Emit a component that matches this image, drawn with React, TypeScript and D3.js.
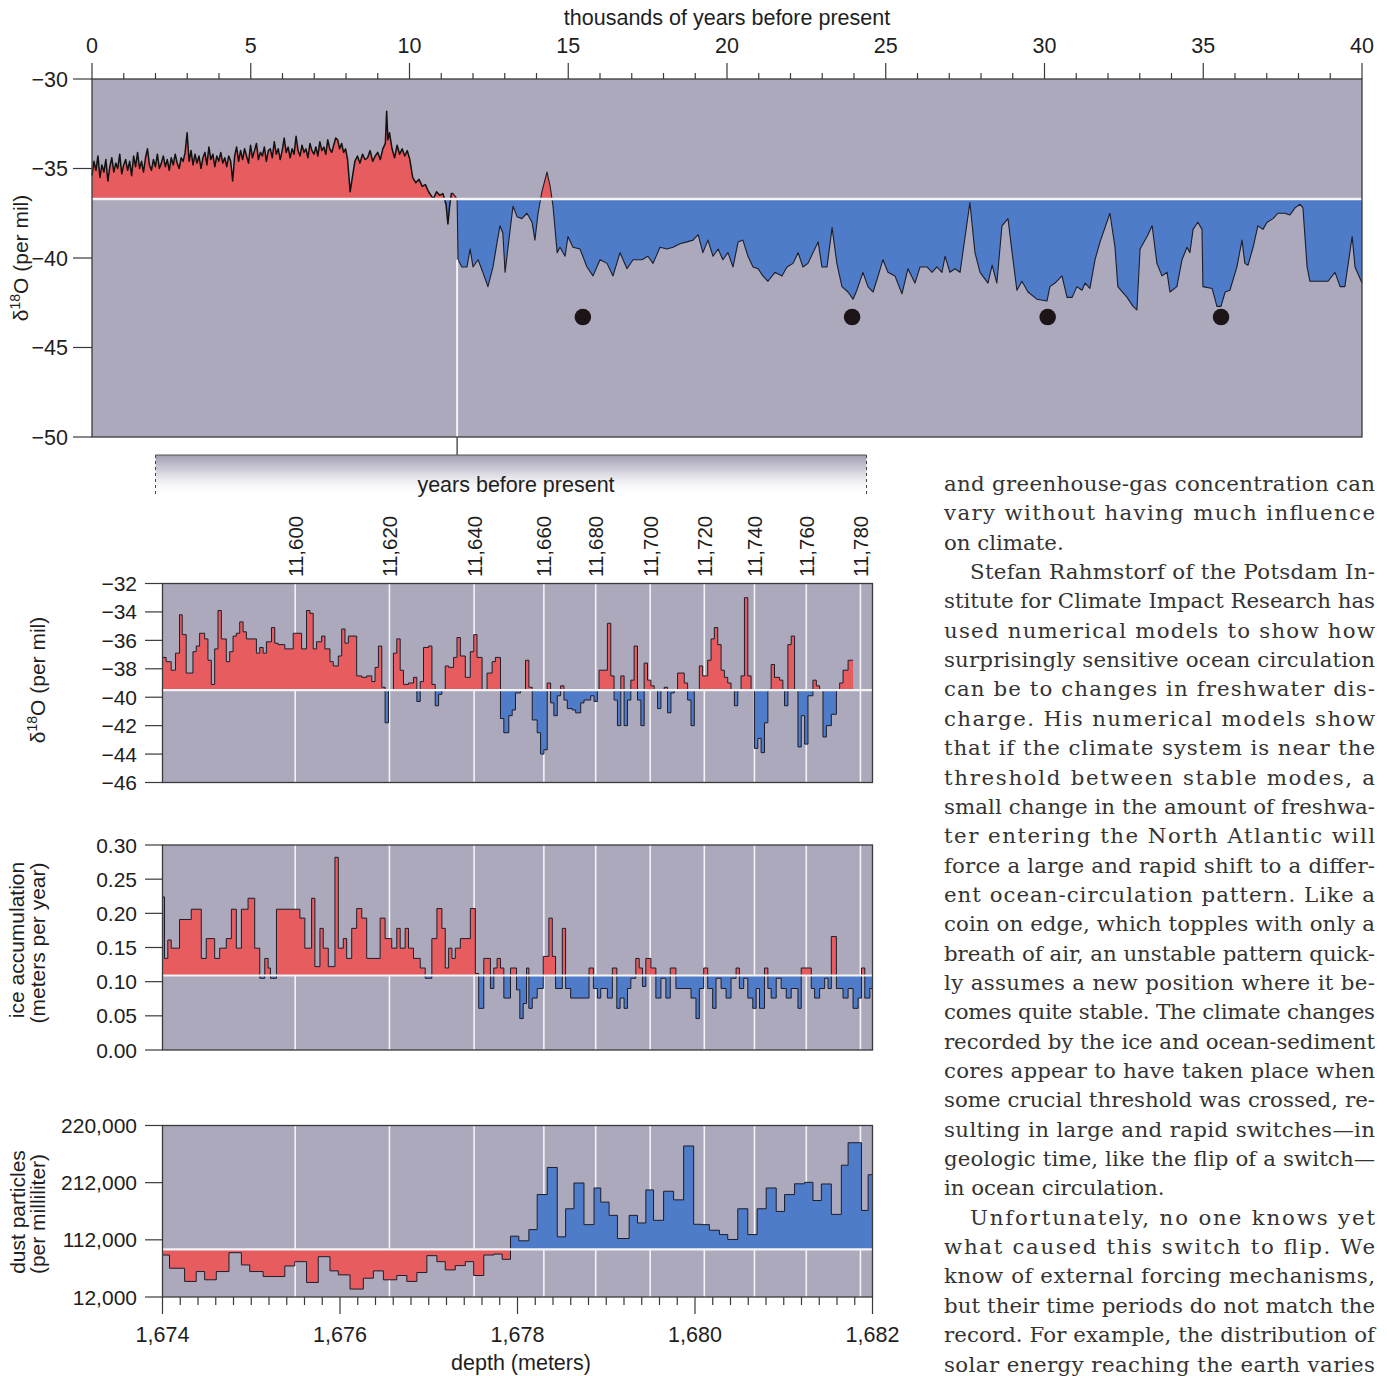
import React from "react";
import * as d3 from "d3";

// ---------------- DATA ----------------
// Top panel: GISP2 δ18O, 0–40 thousand years before present
const topTickKyr = [0, 5, 10, 15, 20, 25, 30, 35, 40];
const topValueTicks = [-30, -35, -40, -45, -50];

// Holocene high-resolution section, evenly sampled from 0 to 8.05 kyr
const holoceneD18O = [
  -35.4, -34.6, -35.1, -34.3, -35.5, -34.8, -35.2, -34.5, -35.7, -34.9, -34.4, -35.2, -34.7, -35.0, -34.2, -35.3,
  -34.8, -34.5, -35.1, -34.6, -35.4, -34.3, -34.9, -34.1, -35.0, -34.6, -35.2, -34.4, -33.9, -34.8, -35.1, -34.5,
  -34.9, -34.2, -35.0, -34.7, -34.3, -34.9, -34.5, -35.1, -34.4, -34.8, -34.2, -34.7, -35.0, -34.4, -34.6, -34.1,
  -33.0, -34.6, -34.0, -34.8, -34.2, -34.7, -34.3, -35.0, -34.4, -34.1, -34.8, -33.8, -34.5, -34.2, -34.9, -34.3,
  -34.6, -34.1, -34.7, -34.4, -34.9, -34.3, -34.6, -35.7,
  -34.3, -33.8, -34.6, -34.0, -34.5, -33.9, -34.3, -34.7, -33.7, -34.4, -34.0, -33.6, -34.5, -34.1, -34.3, -33.8,
  -34.6, -34.0, -33.9, -34.4, -33.5, -34.2, -33.9, -34.5, -34.0, -33.3, -34.1, -33.8, -34.4, -33.9, -34.2, -33.2,
  -34.0, -34.3, -33.7, -34.1, -33.9, -34.4, -33.6, -34.0, -34.2, -33.8, -34.3, -33.5, -34.0, -33.8, -34.2, -33.4,
  -33.9, -34.1,
  -33.7, -33.3, -33.4, -33.9, -33.6, -34.1, -33.9, -34.5,
];
const HOLOCENE_NOISE_END_KYR = 8.05;

const laterAgeKyr = [
  8.13, 8.2, 8.28, 8.36, 8.44, 8.52, 8.6, 8.68, 8.76, 8.84, 8.92, 9.0, 9.08, 9.16, 9.24, 9.28, 9.32, 9.37,
  9.45, 9.53, 9.61, 9.69, 9.77, 9.85, 9.93, 10.01, 10.1, 10.2, 10.3, 10.4, 10.5, 10.6, 10.75, 10.85, 10.95,
  11.05, 11.15, 11.21, 11.27, 11.32, 11.37, 11.5, 11.53, 11.65, 11.81, 11.91, 12.0, 12.16, 12.31, 12.47,
  12.63, 12.76, 12.85, 12.94, 13.01, 13.17, 13.26, 13.39, 13.54, 13.7, 13.86, 13.95, 14.05, 14.17, 14.33,
  14.43, 14.52, 14.65, 14.74, 14.9, 14.99, 15.15, 15.37, 15.59, 15.78, 16.0, 16.22, 16.41, 16.63, 16.85,
  17.04, 17.32, 17.51, 17.67, 17.89, 18.11, 18.3, 18.52, 18.74, 18.93, 19.09, 19.24, 19.4, 19.56, 19.72,
  19.87, 20.03, 20.19, 20.35, 20.5, 20.66, 20.82, 20.98, 21.13, 21.29, 21.51, 21.73, 21.89, 22.08, 22.24,
  22.39, 22.55, 22.71, 22.87, 22.99, 23.15, 23.31, 23.46, 23.62, 23.81, 23.97, 24.09, 24.28, 24.44, 24.6,
  24.76, 24.91, 25.07, 25.29, 25.51, 25.7, 25.92, 26.08, 26.3, 26.46, 26.61, 26.77, 26.87, 27.02, 27.18,
  27.34, 27.5, 27.65, 27.81, 27.97, 28.22, 28.35, 28.5, 28.66, 28.85, 28.98, 29.13, 29.29, 29.48, 29.76,
  30.08, 30.17, 30.33, 30.55, 30.71, 30.87, 31.02, 31.18, 31.28, 31.43, 31.59, 31.75, 32.06, 32.22, 32.31,
  32.6, 32.79, 32.91, 33.01, 33.23, 33.39, 33.54, 33.7, 33.86, 33.95, 34.17, 34.33, 34.49, 34.58, 34.68,
  34.83, 34.96, 34.99, 35.28, 35.43, 35.56, 35.69, 35.84, 36.06, 36.22, 36.31, 36.41, 36.57, 36.72, 36.88,
  37.01, 37.2, 37.35, 37.57, 37.73, 37.89, 38.05, 38.14, 38.27, 38.36, 38.68, 38.93, 39.15, 39.31, 39.46,
  39.69, 39.78, 40.0,
];
const laterD18O = [
  -36.3, -35.5, -34.6, -34.3, -34.7, -34.2, -34.5, -34.4, -34.0, -34.6, -34.3, -34.1, -34.5, -33.9, -33.6, -31.8, -33.4, -33.0,
  -33.9, -34.4, -33.7, -34.2, -33.9, -34.3, -34.0, -34.5, -35.5, -35.8, -35.6, -36.0, -35.9, -36.3, -36.7, -36.3, -36.5,
  -36.4, -37.0, -38.1, -37.0, -36.4, -36.4, -36.7, -40.1, -40.5, -40.5, -39.5, -40.5, -40.1, -40.8, -41.6,
  -40.5, -39.1, -38.2, -38.6, -40.8, -38.4, -37.1, -37.7, -37.8, -37.5, -38.0, -39.0, -37.5, -36.3, -35.2,
  -36.0, -37.1, -39.7, -39.4, -39.9, -38.8, -39.4, -39.5, -40.5, -41.0, -40.1, -40.3, -41.0, -39.7, -40.6,
  -40.1, -40.1, -39.9, -40.3, -39.4, -39.5, -39.4, -39.2, -39.1, -39.0, -38.7, -39.7, -39.0, -39.9, -39.5,
  -40.1, -39.7, -40.5, -39.1, -39.0, -39.9, -40.5, -40.6, -41.0, -41.3, -40.8, -41.0, -40.5, -40.3, -39.7,
  -40.5, -40.3, -39.7, -39.1, -40.5, -40.5, -38.3, -40.3, -41.6, -41.9, -42.3, -41.8, -40.8, -41.6, -41.9,
  -41.0, -40.1, -40.8, -41.0, -42.0, -40.6, -41.4, -40.5, -40.5, -40.8, -40.5, -40.8, -39.9, -40.8, -40.6,
  -40.8, -38.8, -36.9, -39.7, -40.8, -41.4, -40.4, -41.4, -38.2, -37.8, -39.7, -41.8, -41.3, -41.9, -42.3,
  -42.4, -41.6, -41.4, -41.0, -42.2, -42.2, -41.6, -41.8, -41.4, -41.7, -40.1, -39.1, -37.5, -39.4, -41.6,
  -42.2, -42.7, -42.9, -39.5, -38.8, -38.2, -40.3, -41.0, -40.8, -41.9, -41.6, -40.1, -39.4, -39.7, -38.4,
  -38.0, -38.4, -41.6, -41.7, -42.7, -42.7, -41.9, -41.8, -40.5, -39.0, -40.3, -40.4, -39.4, -38.2, -38.4,
  -38.0, -37.8, -37.5, -37.5, -37.6, -37.2, -37.0, -37.2, -40.5, -41.3, -41.3, -41.3, -40.8, -41.6, -41.6,
  -38.8, -40.5, -41.4,
];
const TOP_THRESHOLD = -36.7;
const TRANSITION_KYR = 11.5;
const stadialDotKyr = [15.46, 23.94, 30.1, 35.56];
const STADIAL_DOT_VALUE = -43.3;

// Lower panels: depth axis and year markers
const depthLabelTicks = [1674, 1676, 1678, 1680, 1682];
const yearLabels = ["11,600", "11,620", "11,640", "11,660", "11,680", "11,700", "11,720", "11,740", "11,760", "11,780"];
const yearDepth = [1675.495, 1676.557, 1677.511, 1678.297, 1678.881, 1679.495, 1680.105, 1680.67, 1681.254, 1681.864];

// High-resolution δ18O (step starts, depth in m)
const hiResDepth = [
  1674.0, 1674.041, 1674.098, 1674.147, 1674.192, 1674.222, 1674.267, 1674.343, 1674.38, 1674.418, 1674.475, 1674.512,
  1674.55, 1674.588, 1674.625, 1674.663, 1674.719, 1674.757, 1674.795, 1674.832, 1674.87, 1674.908, 1674.945, 1675.058,
  1675.096, 1675.134, 1675.171, 1675.228, 1675.265, 1675.303, 1675.378, 1675.473, 1675.567, 1675.623, 1675.661, 1675.698,
  1675.736, 1675.793, 1675.83, 1675.887, 1675.924, 1675.981, 1676.019, 1676.056, 1676.094, 1676.188, 1676.245, 1676.301,
  1676.358, 1676.395, 1676.433, 1676.471, 1676.508, 1676.546, 1676.602, 1676.64, 1676.678, 1676.715, 1676.772, 1676.828,
  1676.866, 1676.904, 1676.941, 1676.998, 1677.036, 1677.073, 1677.111, 1677.148, 1677.186, 1677.224, 1677.28, 1677.318,
  1677.356, 1677.412, 1677.468, 1677.507, 1677.544, 1677.601, 1677.657, 1677.714, 1677.751, 1677.808, 1677.846, 1677.902,
  1677.94, 1677.977, 1678.034, 1678.09, 1678.128, 1678.166, 1678.222, 1678.26, 1678.298, 1678.335, 1678.373, 1678.41,
  1678.448, 1678.486, 1678.523, 1678.561, 1678.618, 1678.655, 1678.712, 1678.749, 1678.825, 1678.862, 1678.9, 1678.919,
  1679.013, 1679.051, 1679.088, 1679.126, 1679.164, 1679.201, 1679.239, 1679.277, 1679.314, 1679.352, 1679.39, 1679.427,
  1679.465, 1679.503, 1679.54, 1679.578, 1679.616, 1679.653, 1679.691, 1679.729, 1679.766, 1679.804, 1679.879, 1679.917,
  1679.955, 1679.992, 1680.049, 1680.086, 1680.143, 1680.181, 1680.218, 1680.256, 1680.294, 1680.331, 1680.369, 1680.406,
  1680.444, 1680.482, 1680.519, 1680.557, 1680.595, 1680.632, 1680.67, 1680.708, 1680.745, 1680.783, 1680.821, 1680.858,
  1680.896, 1680.953, 1680.99, 1681.009, 1681.047, 1681.084, 1681.122, 1681.16, 1681.197, 1681.235, 1681.273, 1681.329,
  1681.367, 1681.404, 1681.442, 1681.48, 1681.536, 1681.593, 1681.63, 1681.668, 1681.725,
];
const hiResD18O = [
  -37.2, -37.5, -38.1, -36.9, -34.2, -35.6, -38.3, -36.8, -36.4, -35.5, -35.9, -37.4,
  -39.1, -36.6, -33.9, -35.9, -37.5, -36.8, -35.7, -35.5, -34.7, -35.4, -35.9, -36.9,
  -36.5, -36.9, -36.1, -35.1, -36.2, -36.3, -36.6, -35.5, -36.6, -33.9, -34.1, -36.6,
  -36.1, -35.7, -36.6, -37.5, -37.8, -37.1, -35.2, -36.2, -35.7, -38.5, -38.6, -38.5,
  -38.9, -37.9, -36.4, -39.3, -41.8, -39.5, -36.9, -35.9, -38.1, -39.1, -39.0, -38.6,
  -40.3, -38.9, -36.5, -36.4, -39.1, -40.6, -39.8, -39.5, -37.8, -37.9, -37.2, -35.8,
  -37.1, -38.6, -36.8, -35.6, -37.2, -39.5, -38.3, -37.5, -37.2, -41.5, -42.5, -41.3,
  -40.9, -39.7, -39.5, -37.4, -39.3, -41.6, -42.5, -44.0, -43.7, -39.0, -40.4, -41.3,
  -39.9, -39.2, -40.2, -40.8, -40.9, -41.1, -40.4, -40.2, -39.9, -40.3, -39.5, -38.1,
  -34.8, -38.5, -40.2, -42.0, -38.5, -42.0, -40.2, -38.8, -36.4, -40.2, -42.0, -37.6,
  -38.8, -39.2, -39.5, -40.8, -39.5, -39.3, -41.1, -39.7, -39.5, -38.3, -39.0, -40.2,
  -42.0, -39.5, -37.8, -38.5, -37.4, -35.9, -35.1, -36.3, -38.1, -38.6, -39.0, -39.5,
  -40.6, -39.5, -38.5, -33.0, -38.5, -39.5, -43.6, -42.9, -43.9, -41.8, -39.5, -37.7,
  -38.6, -38.8, -39.5, -40.6, -36.3, -35.7, -39.5, -43.5, -41.3, -43.3, -39.9, -38.8,
  -39.2, -39.5, -42.8, -42.0, -41.2, -39.5, -39.0, -38.1, -37.4,
];
const HIRES_END_DEPTH = 1681.781;
const HIRES_THRESHOLD = -39.5;
const hiResTicks = [-32, -34, -36, -38, -40, -42, -44, -46];

// Ice accumulation (m per year)
const iceDepth = [
  1674.0, 1674.023, 1674.06, 1674.098, 1674.192, 1674.324, 1674.437, 1674.493, 1674.588, 1674.644, 1674.719, 1674.776,
  1674.832, 1674.889, 1674.964, 1675.039, 1675.096, 1675.152, 1675.19, 1675.216, 1675.284, 1675.548, 1675.604, 1675.68,
  1675.717, 1675.774, 1675.811, 1675.868, 1675.943, 1675.981, 1676.037, 1676.075, 1676.132, 1676.188, 1676.245, 1676.301,
  1676.452, 1676.508, 1676.583, 1676.64, 1676.678, 1676.734, 1676.772, 1676.828, 1676.904, 1676.96, 1677.035, 1677.092,
  1677.148, 1677.186, 1677.224, 1677.261, 1677.299, 1677.356, 1677.469, 1677.525, 1677.563, 1677.62, 1677.695, 1677.733,
  1677.77, 1677.808, 1677.846, 1677.921, 1677.989, 1678.026, 1678.064, 1678.102, 1678.128, 1678.166, 1678.222, 1678.29,
  1678.354, 1678.392, 1678.429, 1678.505, 1678.542, 1678.599, 1678.806, 1678.855, 1678.9, 1678.938, 1679.013, 1679.069,
  1679.119, 1679.156, 1679.201, 1679.239, 1679.277, 1679.333, 1679.371, 1679.408, 1679.446, 1679.503, 1679.559, 1679.616,
  1679.672, 1679.721, 1679.785, 1679.955, 1680.011, 1680.049, 1680.098, 1680.143, 1680.199, 1680.237, 1680.294, 1680.35,
  1680.406, 1680.463, 1680.5, 1680.549, 1680.595, 1680.651, 1680.689, 1680.727, 1680.783, 1680.821, 1680.858, 1680.915,
  1680.971, 1681.028, 1681.084, 1681.16, 1681.197, 1681.31, 1681.348, 1681.404, 1681.461, 1681.499, 1681.536, 1681.593,
  1681.668, 1681.725, 1681.781, 1681.838, 1681.876, 1681.913, 1681.97,
];
const iceAccum = [
  0.224, 0.134, 0.161, 0.149, 0.191, 0.206, 0.134, 0.163, 0.134, 0.149, 0.163, 0.206,
  0.149, 0.206, 0.222, 0.149, 0.105, 0.134, 0.12, 0.105, 0.206, 0.193, 0.149, 0.222,
  0.122, 0.178, 0.149, 0.122, 0.282, 0.149, 0.163, 0.134, 0.178, 0.207, 0.193, 0.134,
  0.193, 0.163, 0.149, 0.178, 0.149, 0.178, 0.149, 0.134, 0.12, 0.105, 0.163, 0.207,
  0.178, 0.12, 0.149, 0.134, 0.149, 0.163, 0.207, 0.112, 0.061, 0.134, 0.09, 0.12,
  0.134, 0.12, 0.076, 0.12, 0.088, 0.046, 0.068, 0.12, 0.061, 0.076, 0.09, 0.137,
  0.193, 0.137, 0.09, 0.178, 0.09, 0.076, 0.12, 0.09, 0.076, 0.09, 0.076, 0.12,
  0.061, 0.076, 0.061, 0.09, 0.105, 0.134, 0.12, 0.093, 0.134, 0.12, 0.076, 0.105,
  0.076, 0.12, 0.09, 0.076, 0.046, 0.09, 0.12, 0.09, 0.061, 0.105, 0.09, 0.076,
  0.105, 0.12, 0.09, 0.105, 0.076, 0.061, 0.09, 0.061, 0.12, 0.09, 0.076, 0.105,
  0.09, 0.076, 0.09, 0.061, 0.12, 0.09, 0.076, 0.09, 0.105, 0.09, 0.166, 0.09,
  0.076, 0.09, 0.061, 0.076, 0.12, 0.076, 0.09,
];
const ICE_END_DEPTH = 1682.0;
const ICE_THRESHOLD = 0.109;
const iceTicks = [0, 0.05, 0.1, 0.15, 0.2, 0.25, 0.3];

// Dust particles (per milliliter)
const dustDepth = [
  1674.0, 1674.079, 1674.249, 1674.38, 1674.475, 1674.606, 1674.749, 1674.889, 1674.983, 1675.134, 1675.378, 1675.491,
  1675.623, 1675.755, 1675.887, 1675.981, 1676.113, 1676.263, 1676.376, 1676.489, 1676.64, 1676.753, 1676.866, 1676.979,
  1677.092, 1677.186, 1677.299, 1677.412, 1677.506, 1677.62, 1677.733, 1677.827, 1677.921, 1678.015, 1678.128, 1678.222,
  1678.335, 1678.448, 1678.542, 1678.636, 1678.749, 1678.862, 1678.938, 1679.032, 1679.126, 1679.258, 1679.352, 1679.446,
  1679.533, 1679.646, 1679.759, 1679.872, 1679.985, 1680.068, 1680.162, 1680.275, 1680.369, 1680.482, 1680.595, 1680.7,
  1680.802, 1680.915, 1681.009, 1681.122, 1681.235, 1681.329, 1681.424, 1681.536, 1681.649, 1681.725, 1681.876, 1681.951,
];
const dustCount = [
  85400, 62300, 39200, 56500, 42100, 56500, 89500, 68100, 56500, 47800, 66300, 73800,
  37400, 82500, 57700, 50700, 25900, 44900, 57700, 42100, 49600, 39200, 54800, 84300,
  73800, 59400, 66900, 73800, 49600, 85400, 87100, 77900, 118400, 110300, 129900, 191200,
  238600, 117200, 166300, 211400, 138600, 202700, 177900, 154800, 114300, 154800, 141500, 199300,
  146100, 197000, 181900, 276200, 139200, 138600, 128800, 121200, 112600, 166300, 121200, 166300,
  202700, 161700, 191200, 210000, 212600, 180800, 209700, 156500, 242600, 281900, 163400, 225900,
];
const DUST_END_DEPTH = 1682.0;
const DUST_THRESHOLD = 95200;
const dustTickValues = [12000, 112000, 212000, 312000];
const dustTickLabels = ["12,000", "112,000", "212,000", "220,000"];

// Text column
const bodyLines = [
  "and greenhouse-gas concentration can",
  "vary without having much influence",
  "on climate.",
  "Stefan Rahmstorf of the Potsdam In-",
  "stitute for Climate Impact Research has",
  "used numerical models to show how",
  "surprisingly sensitive ocean circulation",
  "can be to changes in freshwater dis-",
  "charge. His numerical models show",
  "that if the climate system is near the",
  "threshold between stable modes, a",
  "small change in the amount of freshwa-",
  "ter entering the North Atlantic will",
  "force a large and rapid shift to a differ-",
  "ent ocean-circulation pattern. Like a",
  "coin on edge, which topples with only a",
  "breath of air, an unstable pattern quick-",
  "ly assumes a new position where it be-",
  "comes quite stable. The climate changes",
  "recorded by the ice and ocean-sediment",
  "cores appear to have taken place when",
  "some crucial threshold was crossed, re-",
  "sulting in large and rapid switches\u2014in",
  "geologic time, like the flip of a switch\u2014",
  "in ocean circulation.",
  "Unfortunately, no one knows yet",
  "what caused this switch to flip. We",
  "know of external forcing mechanisms,",
  "but their time periods do not match the",
  "record. For example, the distribution of",
  "solar energy reaching the earth varies",
];
const indentedLines = [3, 25];
const raggedLines = [2, 24];

// ---------------- LAYOUT / STYLE ----------------
const W = 1387;
const H = 1376;
const SANS = "'Liberation Sans', Arial, Helvetica, sans-serif";
const SERIF = "'DejaVu Serif', serif";
const BG = "#aba9bb";
const RED = "#e75d5f";
const BLUE = "#4e7cc8";
const INK = "#1d1d2b";
const WHITE = "#f4f4f7";
const FRAME = "#3a3a3a";
const TXT = "#1e1e1e";

const xKyr = d3.scaleLinear().domain([0, 40]).range([92, 1362]);
const yTop = d3.scaleLinear().domain([-50, -30]).range([437, 79]);
const xDepth = d3.scaleLinear().domain([1674, 1682]).range([162.5, 872.5]);
const yHi = d3.scaleLinear().domain([-46, -32]).range([782.5, 583.5]);
const yIce = d3.scaleLinear().domain([0, 0.3]).range([1050, 845]);
const yDust = d3.scaleLinear().domain([12000, 312000]).range([1297, 1125.5]);

type Pt = { x: number; v: number };

function stepPoints(depths: number[], vals: number[], end: number): Pt[] {
  const pts = depths.map((d, i) => ({ x: d, v: vals[i] }));
  pts.push({ x: end, v: vals[vals.length - 1] });
  return pts;
}

function StepPanel(props: {
  id: string;
  yScale: d3.ScaleLinear<number, number>;
  pts: Pt[];
  threshold: number;
  ticks: number[];
  tickText: (v: number, i: number) => string;
  aboveColor: string;
  belowColor: string;
}) {
  const { id, yScale, pts, threshold, ticks, tickText, aboveColor, belowColor } = props;
  const [left, right] = xDepth.range();
  const [bottom, top] = yScale.range();
  const ty = yScale(threshold);
  const area = d3
    .area<Pt>()
    .curve(d3.curveStepAfter)
    .x((d) => xDepth(d.x))
    .y0(ty)
    .y1((d) => yScale(d.v));
  const line = d3
    .line<Pt>()
    .curve(d3.curveStepAfter)
    .x((d) => xDepth(d.x))
    .y((d) => yScale(d.v));
  const ap = area(pts) || "";
  return (
    <g>
      <defs>
        <clipPath id={id + "-up"}>
          <rect x={left} y={top} width={right - left} height={ty - top} />
        </clipPath>
        <clipPath id={id + "-dn"}>
          <rect x={left} y={ty} width={right - left} height={bottom - ty} />
        </clipPath>
      </defs>
      <rect x={left} y={top} width={right - left} height={bottom - top} fill={BG} />
      {yearDepth.map((d, i) => (
        <line key={i} x1={xDepth(d)} x2={xDepth(d)} y1={top} y2={bottom} stroke={WHITE} strokeWidth={1.6} />
      ))}
      <path d={ap} fill={aboveColor} clipPath={`url(#${id}-up)`} />
      <path d={ap} fill={belowColor} clipPath={`url(#${id}-dn)`} />
      <path d={line(pts) || ""} fill="none" stroke={INK} strokeWidth={1} />
      <line x1={left} x2={right} y1={ty} y2={ty} stroke={WHITE} strokeWidth={2.2} />
      <rect x={left} y={top} width={right - left} height={bottom - top} fill="none" stroke={FRAME} strokeWidth={1.3} />
      {ticks.map((t, i) => (
        <g key={i}>
          <line x1={145} x2={left} y1={yScale(t)} y2={yScale(t)} stroke={FRAME} strokeWidth={1.2} />
          <text x={137} y={yScale(t)} dy="0.36em" textAnchor="end" fontSize={21} fontFamily={SANS} fill={TXT}>
            {tickText(t, i)}
          </text>
        </g>
      ))}
    </g>
  );
}

function RotTitle({ x, y, children, size = 21 }: { x: number; y: number; children: React.ReactNode; size?: number }) {
  return (
    <text
      transform={`translate(${x},${y}) rotate(-90)`}
      textAnchor="middle"
      fontSize={size}
      fontFamily={SANS}
      fill={TXT}
    >
      {children}
    </text>
  );
}

export default function App() {
  const holoStep = HOLOCENE_NOISE_END_KYR / (holoceneD18O.length - 1);
  const topSeries = [
    ...holoceneD18O.map((v, i) => ({ t: i * holoStep, v })),
    ...laterAgeKyr.map((t, i) => ({ t, v: laterD18O[i] })),
  ];
  const tY = yTop(TOP_THRESHOLD);
  const [tL, tR] = xKyr.range();
  const [tB, tT] = yTop.range();
  const topArea = d3
    .area<{ t: number; v: number }>()
    .x((d) => xKyr(d.t))
    .y0(tY)
    .y1((d) => yTop(d.v));
  const topLine = d3
    .line<{ t: number; v: number }>()
    .x((d) => xKyr(d.t))
    .y((d) => yTop(d.v));
  const holoPart = topSeries.filter((d) => d.t <= 11.4);
  const glacialPart = topSeries.filter((d) => d.t >= 11.32);
  const topAreaPath = topArea(topSeries) || "";
  const transitionPt = topSeries.find((d) => d.t > TRANSITION_KYR) || topSeries[0];
  const xTrans = xKyr(TRANSITION_KYR);
  const fmtDepth = d3.format(",");
  const fmtIce = d3.format(".2f");
  const fmtTop = d3.format("d");

  const minorDepthTicks = d3.range(0, 41).map((i) => 1674 + i * 0.2);

  const textLeft = 944;
  const textRight = 1375;
  const indent = 26;

  return (
    <svg
      width={W}
      height={H}
      viewBox={`0 0 ${W} ${H}`}
      style={{ position: "absolute", left: 0, top: 0, display: "block", background: "#ffffff" }}
    >
      <defs>
        <clipPath id="top-up">
          <rect x={tL} y={tT} width={tR - tL} height={tY - tT} />
        </clipPath>
        <clipPath id="top-dn">
          <rect x={tL} y={tY} width={tR - tL} height={tB - tY} />
        </clipPath>
        <linearGradient id="fade" x1="0" y1="0" x2="0" y2="1">
          <stop offset="0" stopColor="#a09eb1" stopOpacity={1} />
          <stop offset="0.35" stopColor="#c4c3cf" stopOpacity={0.85} />
          <stop offset="1" stopColor="#ffffff" stopOpacity={0} />
        </linearGradient>
      </defs>
      <rect x={0} y={0} width={W} height={H} fill="#ffffff" />

      {/* ---------- TOP PANEL ---------- */}
      <rect x={tL} y={tT} width={tR - tL} height={tB - tT} fill={BG} />
      <path d={topAreaPath} fill={RED} clipPath="url(#top-up)" />
      <path d={topAreaPath} fill={BLUE} clipPath="url(#top-dn)" />
      <path d={topLine(holoPart) || ""} fill="none" stroke="#111111" strokeWidth={1.5} strokeLinejoin="round" />
      <path d={topLine(glacialPart) || ""} fill="none" stroke={INK} strokeWidth={1.1} strokeLinejoin="round" />
      <line x1={tL} x2={tR} y1={tY} y2={tY} stroke={WHITE} strokeWidth={2.4} />
      <line x1={xTrans} x2={xTrans} y1={yTop(transitionPt.v)} y2={tB} stroke={WHITE} strokeWidth={2} />
      {stadialDotKyr.map((t, i) => (
        <circle key={i} cx={xKyr(t)} cy={yTop(STADIAL_DOT_VALUE)} r={8.3} fill="#1c1416" />
      ))}
      <rect x={tL} y={tT} width={tR - tL} height={tB - tT} fill="none" stroke={FRAME} strokeWidth={1.3} />
      {d3.range(0, 41).map((k) => (
        <line
          key={k}
          x1={xKyr(k)}
          x2={xKyr(k)}
          y1={tT}
          y2={k % 5 === 0 ? tT - 16 : tT - 6}
          stroke={FRAME}
          strokeWidth={1.2}
        />
      ))}
      {topTickKyr.map((k) => (
        <text key={k} x={xKyr(k)} y={53} textAnchor="middle" fontSize={21.5} fontFamily={SANS} fill={TXT}>
          {fmtTop(k)}
        </text>
      ))}
      <text x={727} y={25} textAnchor="middle" fontSize={21.5} fontFamily={SANS} fill={TXT}>
        thousands of years before present
      </text>
      {topValueTicks.map((v) => (
        <g key={v}>
          <line x1={73} x2={tL} y1={yTop(v)} y2={yTop(v)} stroke={FRAME} strokeWidth={1.2} />
          <text x={68} y={yTop(v)} dy="0.36em" textAnchor="end" fontSize={21.5} fontFamily={SANS} fill={TXT}>
            {fmtTop(v)}
          </text>
        </g>
      ))}
      <RotTitle x={28} y={258}>
        {"\u03b4"}
        <tspan fontSize={14} dy={-8}>18</tspan>
        <tspan dy={8}>O (per mil)</tspan>
      </RotTitle>

      {/* ---------- zoom connector ---------- */}
      <line x1={xTrans} x2={xTrans} y1={tB} y2={455} stroke={FRAME} strokeWidth={1.3} />
      <rect x={155.5} y={455} width={711} height={42} fill="url(#fade)" />
      <line x1={155.5} x2={866.5} y1={455} y2={455} stroke="#555555" strokeWidth={1.2} />
      <line x1={155.5} x2={155.5} y1={455} y2={496} stroke="#444444" strokeWidth={1} strokeDasharray="3 3" />
      <line x1={866.5} x2={866.5} y1={455} y2={496} stroke="#444444" strokeWidth={1} strokeDasharray="3 3" />
      <text x={516} y={492} textAnchor="middle" fontSize={21.5} fontFamily={SANS} fill={TXT}>
        years before present
      </text>
      {yearLabels.map((lab, i) => (
        <text
          key={lab}
          transform={`translate(${xDepth(yearDepth[i]) + 7.5},577) rotate(-90)`}
          textAnchor="start"
          fontSize={20.5}
          fontFamily={SANS}
          fill={TXT}
        >
          {lab}
        </text>
      ))}

      {/* ---------- panel 1: δ18O high resolution ---------- */}
      <StepPanel
        id="hi"
        yScale={yHi}
        pts={stepPoints(hiResDepth, hiResD18O, HIRES_END_DEPTH)}
        threshold={HIRES_THRESHOLD}
        ticks={hiResTicks}
        tickText={(v) => fmtTop(v)}
        aboveColor={RED}
        belowColor={BLUE}
      />
      <RotTitle x={45} y={680}>
        {"\u03b4"}
        <tspan fontSize={14} dy={-8}>18</tspan>
        <tspan dy={8}>O (per mil)</tspan>
      </RotTitle>

      {/* ---------- panel 2: ice accumulation ---------- */}
      <StepPanel
        id="ice"
        yScale={yIce}
        pts={stepPoints(iceDepth, iceAccum, ICE_END_DEPTH)}
        threshold={ICE_THRESHOLD}
        ticks={iceTicks}
        tickText={(v) => fmtIce(v)}
        aboveColor={RED}
        belowColor={BLUE}
      />
      <RotTitle x={24} y={940}>ice accumulation</RotTitle>
      <RotTitle x={45} y={943}>(meters per year)</RotTitle>

      {/* ---------- panel 3: dust (high dust = cold, so colours inverted) ---------- */}
      <StepPanel
        id="dust"
        yScale={yDust}
        pts={stepPoints(dustDepth, dustCount, DUST_END_DEPTH)}
        threshold={DUST_THRESHOLD}
        ticks={dustTickValues}
        tickText={(_, i) => dustTickLabels[i]}
        aboveColor={BLUE}
        belowColor={RED}
      />
      <RotTitle x={25} y={1212}>dust particles</RotTitle>
      <RotTitle x={45} y={1214}>(per milliliter)</RotTitle>

      {/* depth axis */}
      {minorDepthTicks.map((d, i) => (
        <line
          key={i}
          x1={xDepth(d)}
          x2={xDepth(d)}
          y1={1297}
          y2={i % 10 === 0 ? 1314 : 1305}
          stroke={FRAME}
          strokeWidth={1.2}
        />
      ))}
      {depthLabelTicks.map((d) => (
        <text key={d} x={xDepth(d)} y={1342} textAnchor="middle" fontSize={21.5} fontFamily={SANS} fill={TXT}>
          {fmtDepth(d)}
        </text>
      ))}
      <text x={521} y={1370} textAnchor="middle" fontSize={21.5} fontFamily={SANS} fill={TXT}>
        depth (meters)
      </text>

      {/* ---------- text column ---------- */}
      {bodyLines.map((s, i) => {
        const isIndent = indentedLines.includes(i);
        const isRagged = raggedLines.includes(i);
        const x0 = textLeft + (isIndent ? indent : 0);
        const extra = isRagged ? {} : { textLength: textRight - x0, lengthAdjust: "spacing" as const };
        return (
          <text key={i} x={x0} y={491 + i * 29.35} fontSize={21.3} fontFamily={SERIF} fill="#333333" {...extra}>
            {s}
          </text>
        );
      })}
    </svg>
  );
}
